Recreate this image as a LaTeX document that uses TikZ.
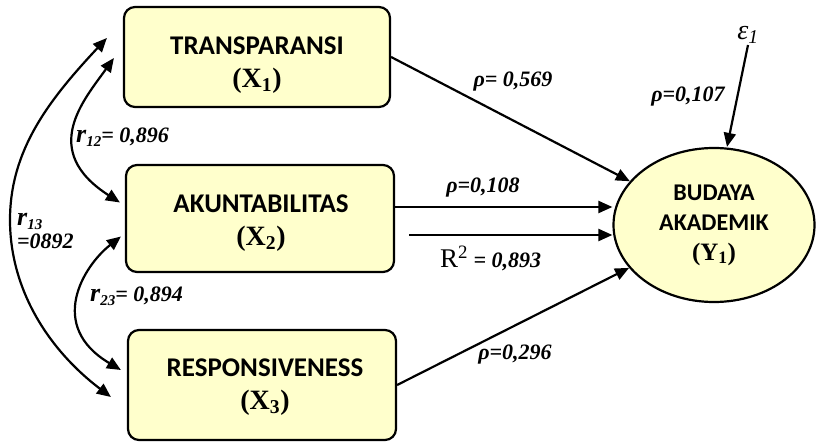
\documentclass[tikz,border=0pt]{standalone}
\usepackage{fontspec}
\setmainfont{Liberation Serif}
\newfontfamily\boxfont{Carlito}
\usetikzlibrary{arrows.meta}
\usetikzlibrary{shapes.geometric}
\usetikzlibrary{calc}
\definecolor{boxfill}{HTML}{FFFFCC}
\newcommand{\varlabel}[1]{{\rmfamily\fontsize{28}{33}\selectfont(#1)}}
\newcommand{\rcorr}[1]{{\fontsize{26}{26}\selectfont r}\raisebox{-4pt}{\fontsize{15}{15}\selectfont #1}}
\tikzset{
  varbox/.style={draw, line width=2.2pt, rounded corners=11pt, fill=boxfill, inner sep=0pt},
  vartext/.style={align=center, inner sep=0pt, font=\boxfont\bfseries\fontsize{27}{33}\selectfont},
  arr/.style={line width=2.2pt, -{Triangle[length=14pt,width=12pt]}},
  dbl/.style={line width=2.2pt, {Triangle[length=14pt,width=12pt]}-{Triangle[length=14pt,width=12pt]}},
  coef/.style={font=\bfseries\itshape\fontsize{22}{23}\selectfont, inner sep=0pt}
}
\begin{document}
\begin{tikzpicture}[x=1pt,y=-1pt]
	\useasboundingbox (0,0) rectangle (818,446);

	\node[varbox, minimum width=266pt, minimum height=100pt] (x1) at (257,57) {};
	\node[varbox, minimum width=268pt, minimum height=107pt] (x2) at (260,218.5) {};
	\node[varbox, minimum width=268pt, minimum height=110pt] (x3) at (262,385) {};
	\node[vartext] (x1t) at (257,65) {TRANSPARANSI\\\varlabel{X\textsubscript{1}}};
	\node[vartext] (x2t) at (261,223) {AKUNTABILITAS\\\varlabel{X\textsubscript{2}}};
	\node[vartext] (x3t) at (265,387) {RESPONSIVENESS\\\varlabel{X\textsubscript{3}}};

	\node[draw, ellipse, line width=2.2pt, fill=boxfill, minimum width=201pt, minimum height=154pt,
	  align=center, font=\boxfont\bfseries\fontsize{24}{30}\selectfont] (y1) at (714,225)
	  {BUDAYA\\AKADEMIK\\{\rmfamily\fontsize{25}{30}\selectfont(Y\textsubscript{1})}};
	\node[font=\itshape\fontsize{28}{30}\selectfont, inner sep=1pt] (eps) at (748,35) {ε\textsubscript{1}};

	\draw[arr] (x1.east) -- (y1);
	\draw[arr] ($(x2.east)+(0,-11.5)$) -- ($(x2.east -| y1.west)+(0,-11.5)$);
	\draw[arr] ($(x2.east)+(14,16.5)$) -- ($(x2.east -| y1.west)+(0,16.5)$);
	\draw[arr] (x3.east) -- (y1);
	\draw[arr] (eps.south) -- ([xshift=13pt]y1.north);

	\draw[dbl] ($(x1.west)+(-9,1)$) .. controls +(-30,42) and +(-81,-52) .. ($(x2.west)+(-5,-16)$);
	\draw[dbl] ($(x1.west)+(-16,-19)$) .. controls +(-58,62) and +(0,-70) .. (10,220)
	  .. controls +(0,70) and +(-62,-47) .. ($(x3.west)+(-16,12)$);
	\draw[dbl] ($(x2.west)+(-4,18)$) .. controls +(-38,30) and +(-74,-44) .. ($(x3.west)+(-6,-15)$);

	\node[coef] (p1) at (513,82) {ρ= 0,569};
	\node[coef] (p4) at (688,97) {ρ=0,107};
	\node[coef] (p2) at (483,188) {ρ=0,108};
	\node[coef, anchor=west] (rsq) at (440,258) {{\mdseries\upshape\fontsize{27}{30}\selectfont R\textsuperscript{2}} = 0,893};
	\node[coef] (p3) at (515,355) {ρ=0,296};
	\node[coef, anchor=west] (r12) at (76,137) {\rcorr{12}= 0,896};
	\node[coef, anchor=west, align=left] (r13) at (17,231) {\rcorr{13}\\=0892};
	\node[coef, anchor=west] (r23) at (90,296) {\rcorr{23}= 0,894};
\end{tikzpicture}
\end{document}
